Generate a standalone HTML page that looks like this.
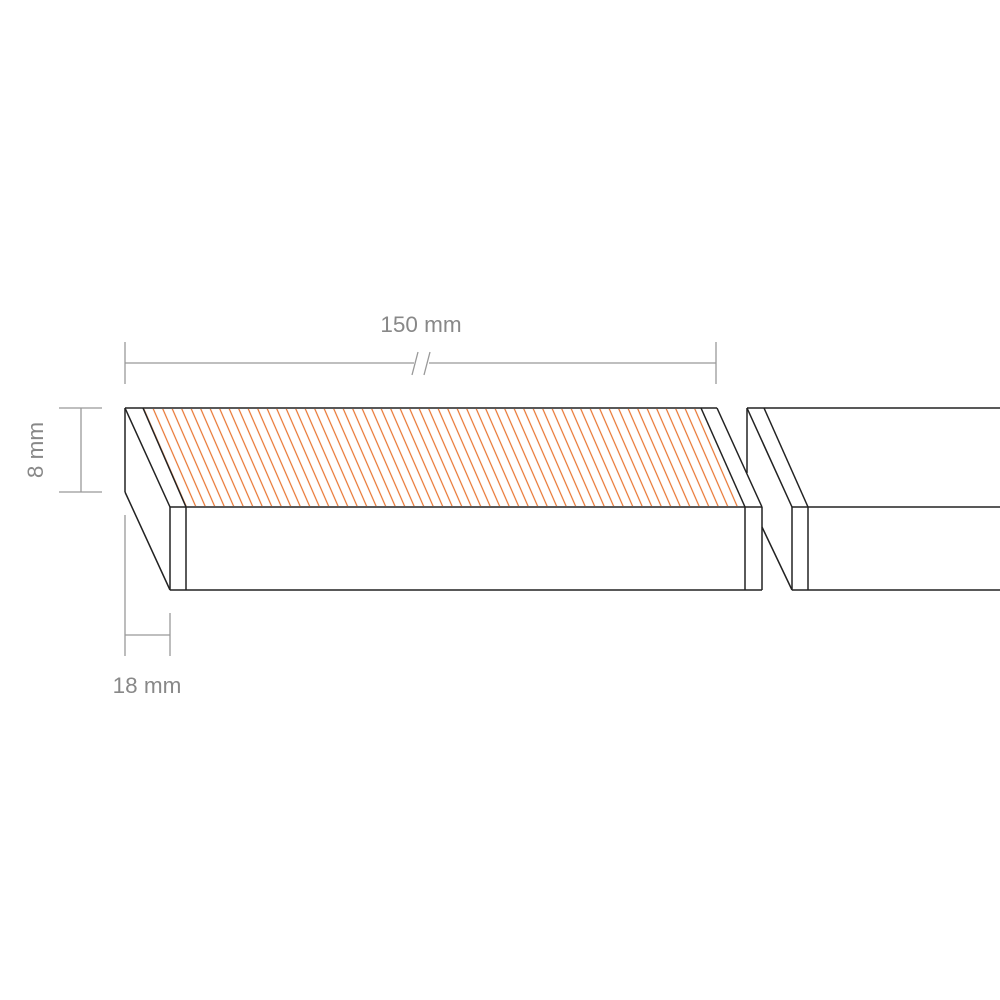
<!DOCTYPE html>
<html><head><style>body{margin:0;background:#fff}svg{display:block}</style></head>
<body>
<svg width="1000" height="1000" viewBox="0 0 1000 1000" xmlns="http://www.w3.org/2000/svg">
<defs>
<pattern id="h" patternUnits="userSpaceOnUse" width="9.5" height="99" patternTransform="skewX(23.5)">
<line x1="4" y1="0" x2="4" y2="99" stroke="#e8732f" stroke-width="1.3"/>
</pattern>
<clipPath id="c"><polygon points="144,409 701,409 745,506 186,506"/></clipPath>
</defs>
<g clip-path="url(#c)">
<rect x="100" y="408" width="700" height="99" fill="url(#h)"/>
</g>
<g stroke="#222" stroke-width="1.5" fill="none">
<line x1="125" y1="408" x2="717" y2="408"/>
<line x1="125" y1="408" x2="125" y2="492"/>
<line x1="125" y1="408" x2="170" y2="507"/>
<line x1="143" y1="408" x2="186" y2="507"/>
<line x1="125" y1="492" x2="170" y2="590"/>
<line x1="170" y1="507" x2="762" y2="507"/>
<line x1="170" y1="590" x2="762" y2="590"/>
<line x1="170" y1="507" x2="170" y2="590"/>
<line x1="186" y1="507" x2="186" y2="590"/>
<line x1="745" y1="507" x2="745" y2="590"/>
<line x1="762" y1="507" x2="762" y2="590"/>
<line x1="701" y1="408" x2="745" y2="507"/>
<line x1="717" y1="408" x2="762" y2="507"/>
<line x1="747" y1="408" x2="1000" y2="408"/>
<line x1="747" y1="408" x2="747" y2="473"/>
<line x1="747" y1="408" x2="792" y2="507"/>
<line x1="764" y1="408" x2="808" y2="507"/>
<line x1="762" y1="527" x2="792" y2="590"/>
<line x1="792" y1="507" x2="1000" y2="507"/>
<line x1="792" y1="590" x2="1000" y2="590"/>
<line x1="792" y1="507" x2="792" y2="590"/>
<line x1="808" y1="507" x2="808" y2="590"/>
</g>
<g stroke="#999" stroke-width="1.3" fill="none">
<line x1="125" y1="363" x2="414" y2="363"/>
<line x1="429" y1="363" x2="716" y2="363"/>
<line x1="125" y1="342" x2="125" y2="384"/>
<line x1="716" y1="342" x2="716" y2="384"/>
<line x1="412" y1="375" x2="418" y2="352"/>
<line x1="424" y1="375" x2="430" y2="352"/>
<line x1="81" y1="408" x2="81" y2="492"/>
<line x1="59" y1="408" x2="102" y2="408"/>
<line x1="59" y1="492" x2="102" y2="492"/>
<line x1="125" y1="515" x2="125" y2="656"/>
<line x1="170" y1="613" x2="170" y2="656"/>
<line x1="125" y1="635" x2="170" y2="635"/>
</g>
<g fill="#888" font-family="Liberation Sans, sans-serif" font-size="22.5">
<text x="421" y="332" text-anchor="middle">150 mm</text>
<text x="147" y="693" text-anchor="middle">18 mm</text>
<text x="0" y="0" text-anchor="middle" transform="translate(43,450) rotate(-90)">8 mm</text>
</g>
</svg>
</body></html>
